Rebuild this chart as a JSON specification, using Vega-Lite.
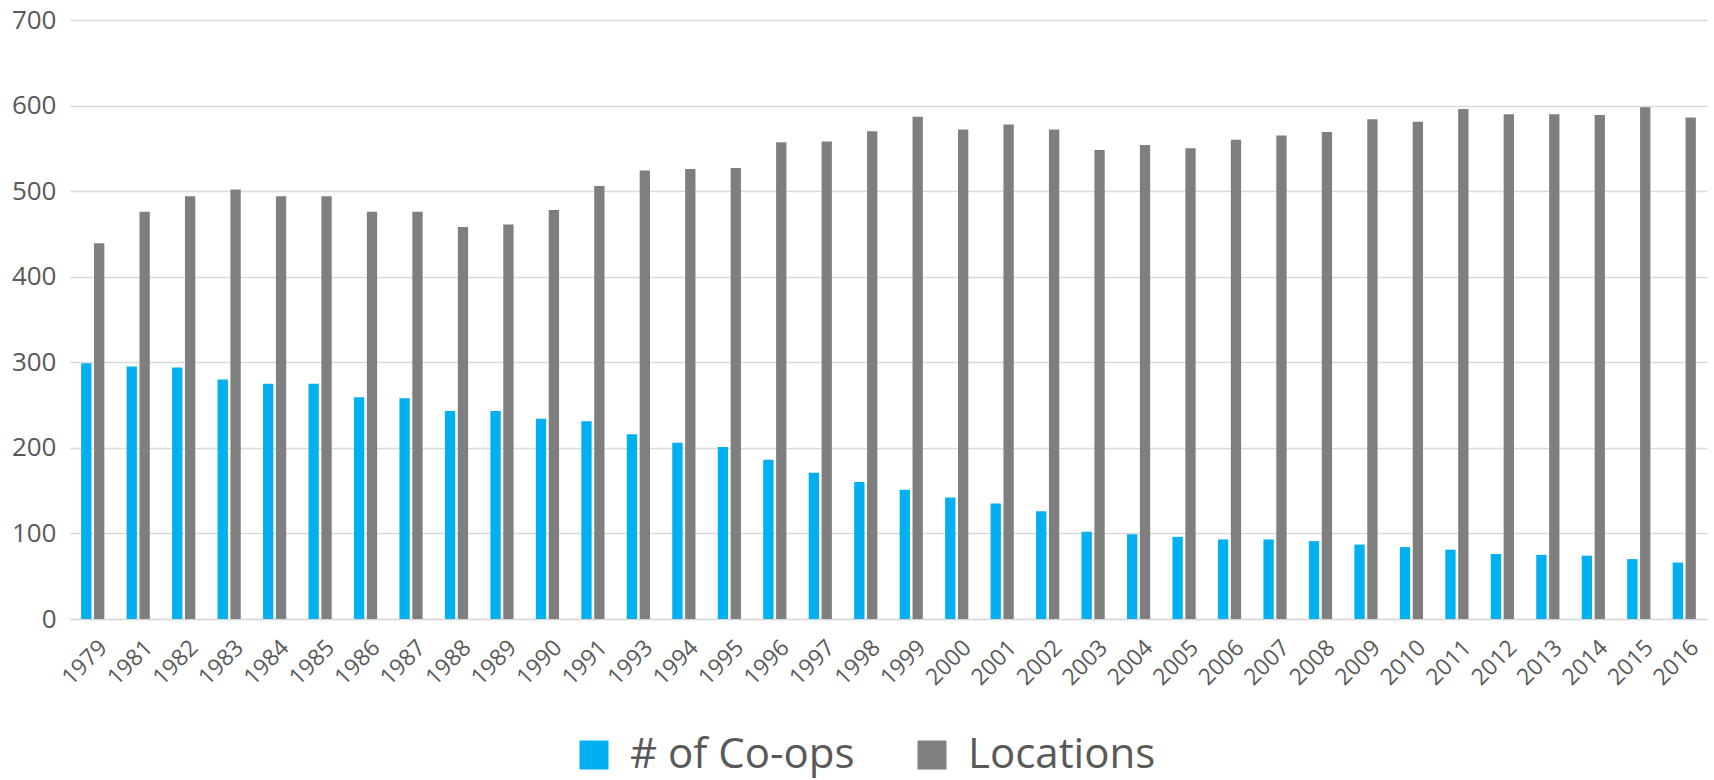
{
  "$schema": "https://vega.github.io/schema/vega-lite/v6.json",
  "autosize": {"type": "none"},
  "width": 1637,
  "height": 599,
  "padding": {"left": 70, "top": 20, "right": 7, "bottom": 161},
  "background": "white",
  "data": {
    "values": [
      {"year": "1979", "# of Co-ops": 299, "Locations": 439},
      {"year": "1981", "# of Co-ops": 295, "Locations": 476},
      {"year": "1982", "# of Co-ops": 294, "Locations": 494},
      {"year": "1983", "# of Co-ops": 280, "Locations": 502},
      {"year": "1984", "# of Co-ops": 275, "Locations": 494},
      {"year": "1985", "# of Co-ops": 275, "Locations": 494},
      {"year": "1986", "# of Co-ops": 259, "Locations": 476},
      {"year": "1987", "# of Co-ops": 258, "Locations": 476},
      {"year": "1988", "# of Co-ops": 243, "Locations": 458},
      {"year": "1989", "# of Co-ops": 243, "Locations": 461},
      {"year": "1990", "# of Co-ops": 234, "Locations": 478},
      {"year": "1991", "# of Co-ops": 231, "Locations": 506},
      {"year": "1993", "# of Co-ops": 216, "Locations": 524},
      {"year": "1994", "# of Co-ops": 206, "Locations": 526},
      {"year": "1995", "# of Co-ops": 201, "Locations": 527},
      {"year": "1996", "# of Co-ops": 186, "Locations": 557},
      {"year": "1997", "# of Co-ops": 171, "Locations": 558},
      {"year": "1998", "# of Co-ops": 160, "Locations": 570},
      {"year": "1999", "# of Co-ops": 151, "Locations": 587},
      {"year": "2000", "# of Co-ops": 142, "Locations": 572},
      {"year": "2001", "# of Co-ops": 135, "Locations": 578},
      {"year": "2002", "# of Co-ops": 126, "Locations": 572},
      {"year": "2003", "# of Co-ops": 102, "Locations": 548},
      {"year": "2004", "# of Co-ops": 99, "Locations": 554},
      {"year": "2005", "# of Co-ops": 96, "Locations": 550},
      {"year": "2006", "# of Co-ops": 93, "Locations": 560},
      {"year": "2007", "# of Co-ops": 93, "Locations": 565},
      {"year": "2008", "# of Co-ops": 91, "Locations": 569},
      {"year": "2009", "# of Co-ops": 87, "Locations": 584},
      {"year": "2010", "# of Co-ops": 84, "Locations": 581},
      {"year": "2011", "# of Co-ops": 81, "Locations": 596},
      {"year": "2012", "# of Co-ops": 76, "Locations": 590},
      {"year": "2013", "# of Co-ops": 75, "Locations": 590},
      {"year": "2014", "# of Co-ops": 74, "Locations": 589},
      {"year": "2015", "# of Co-ops": 70, "Locations": 598},
      {"year": "2016", "# of Co-ops": 66, "Locations": 586}
    ]
  },
  "transform": [
    {"fold": ["# of Co-ops", "Locations"], "as": ["series", "value"]}
  ],
  "mark": {"type": "bar"},
  "encoding": {
    "x": {
      "field": "year",
      "type": "ordinal",
      "sort": null,
      "scale": {"paddingInner": 0.49, "paddingOuter": 0.245},
      "axis": {
        "title": null,
        "labelAngle": -45,
        "labelAlign": "right",
        "labelBaseline": "top",
        "labelFont": "Open Sans",
        "labelFontSize": 23,
        "labelColor": "#595959",
        "labelPadding": 17,
        "labelOffset": 3,
        "ticks": false,
        "domain": true,
        "domainColor": "#D9D9D9",
        "domainWidth": 1.5,
        "grid": false
      }
    },
    "xOffset": {
      "field": "series",
      "type": "nominal",
      "sort": ["# of Co-ops", "Locations"],
      "scale": {"paddingInner": 0.2, "paddingOuter": 0}
    },
    "y": {
      "field": "value",
      "type": "quantitative",
      "scale": {"domain": [0, 700], "nice": false},
      "axis": {
        "title": null,
        "values": [0, 100, 200, 300, 400, 500, 600, 700],
        "labelFont": "Open Sans",
        "labelFontSize": 26,
        "labelColor": "#595959",
        "labelPadding": 14,
        "ticks": false,
        "domain": false,
        "grid": true,
        "gridColor": "#D9D9D9",
        "gridWidth": 1.5
      }
    },
    "color": {
      "field": "series",
      "type": "nominal",
      "scale": {"domain": ["# of Co-ops", "Locations"], "range": ["#00B0F0", "#7F7F7F"]},
      "legend": {
        "title": null,
        "orient": "none",
        "direction": "horizontal",
        "legendX": 503,
        "legendY": 714,
        "symbolType": "square",
        "symbolSize": 841,
        "symbolStrokeWidth": 0,
        "labelFont": "Open Sans",
        "labelFontSize": 42,
        "labelColor": "#595959",
        "labelOffset": 15,
        "columnPadding": 56,
        "labelLimit": 400
      }
    }
  },
  "config": {
    "view": {"stroke": null}
  }
}
